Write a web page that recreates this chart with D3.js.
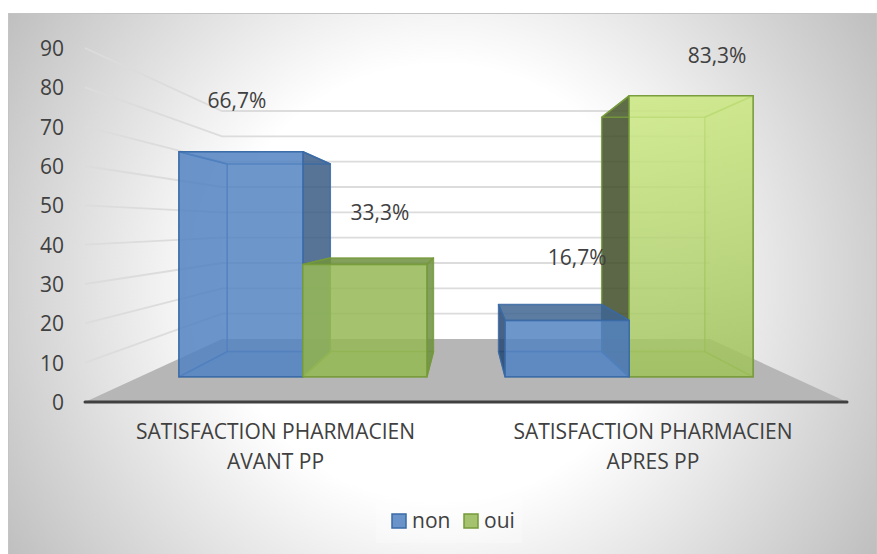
<!DOCTYPE html>
<html>
<head>
<meta charset="utf-8">
<script src="https://cdn.jsdelivr.net/npm/d3@7"></script>
<style>
  html, body { margin: 0; padding: 0; background: #fff; }
  svg { display: block; }
  text { font-family: "Open Sans", sans-serif; fill: #404040; }
</style>
</head>
<body>
<div id="chart"></div>
<script>
const categories = ['SATISFACTION PHARMACIEN|AVANT PP', 'SATISFACTION PHARMACIEN|APRES PP'];
const seriesNames = ['non', 'oui'];
const nonValues = [66.7, 16.7];
const ouiValues = [33.3, 83.3];
const yTicks = [0, 10, 20, 30, 40, 50, 60, 70, 80, 90];
const nonLabels = ['66,7%', '16,7%'];
const ouiLabels = ['33,3%', '83,3%'];

const width = 877;
const height = 554;

const svg = d3.select('#chart').append('svg')
  .attr('width', width)
  .attr('height', height);

const defs = svg.append('defs');
const bg = defs.append('radialGradient').attr('id', 'bg')
  .attr('gradientUnits', 'userSpaceOnUse')
  .attr('cx', 440).attr('cy', 283).attr('r', 520);
bg.append('stop').attr('offset', '0.42').attr('stop-color', '#ffffff');
bg.append('stop').attr('offset', '1').attr('stop-color', '#bdbdbd');

const greenFill = defs.append('linearGradient').attr('id', 'greenFill')
  .attr('gradientUnits', 'userSpaceOnUse')
  .attr('x1', 0).attr('x2', 0).attr('y1', 95).attr('y2', 376);
greenFill.append('stop').attr('offset', '0').attr('stop-color', '#cce983');
greenFill.append('stop').attr('offset', '1').attr('stop-color', '#a0c25d');

svg.append('rect')
  .attr('x', 8.5).attr('y', 13.5)
  .attr('width', 868).attr('height', 541)
  .attr('fill', 'url(#bg)')
  .attr('stroke', '#c4c4c4');

// front and back planes of the 3d box, depth goes 0 (front) to 1 (back)
const yFront = d3.scaleLinear().domain([0, 90]).range([402, 48]);
const yBack = d3.scaleLinear().domain([0, 90]).range([339, 111]);
const xLeft = d3.scaleLinear().domain([0, 1]).range([85, 222]);
const xRight = d3.scaleLinear().domain([0, 1]).range([847, 710]);

function project(u, depth, value) {
  const x = d3.interpolateNumber(xLeft(depth), xRight(depth))(u);
  const y = d3.interpolateNumber(yFront(value), yBack(value))(depth);
  return [x, y];
}

const x0 = d3.scaleBand().domain(categories).range([0, 1]).paddingInner(0.24).paddingOuter(0.12);
const x1 = d3.scaleBand().domain(seriesNames).range([0, x0.bandwidth()]);

const barFront = 0.4;
const barBack = 0.8;

const line = d3.line();
const poly = pts => line(pts) + 'Z';

// floor
svg.append('path')
  .attr('d', poly([project(0, 0, 0), project(1, 0, 0), project(1, 1, 0), project(0, 1, 0)]))
  .attr('fill', '#b6b6b6');

// gridlines: left wall then back wall
const grid = svg.append('g')
  .attr('fill', 'none')
  .attr('stroke', '#dcdcdc')
  .attr('stroke-width', 1.8);
yTicks.filter(d => d > 0).forEach(d => {
  grid.append('path').attr('d', line([project(0, 0, d), project(0, 1, d), project(1, 1, d)]));
});

// y axis labels
svg.append('g').selectAll('text')
  .data(yTicks)
  .join('text')
  .attr('x', 64)
  .attr('y', d => yFront(d) + 8)
  .attr('text-anchor', 'end')
  .attr('font-size', 21)
  .text(d => d);

// bars
const colours = {
  non: { front: '#5484c2', edge: '#3a6aa5', left: '#27466e', right: '#3a5c85', top: '#3f6592', fill: '#5b8cc8' },
  oui: { front: '#95b956', edge: '#769a3a', left: '#3f4c28', right: '#6f9040', top: '#6f9040', fill: '#a3c16a' }
};

function drawBar(g, cat, name, value, frontFill) {
  const c = colours[name];
  const u0 = x0(cat) + x1(name);
  const u1 = u0 + x1.bandwidth();
  const fl = project(u0, barFront, 0), fr = project(u1, barFront, 0);
  const flt = project(u0, barFront, value), frt = project(u1, barFront, value);
  const bl = project(u0, barBack, 0), br = project(u1, barBack, 0);
  const blt = project(u0, barBack, value), brt = project(u1, barBack, value);

  const face = (pts, fill, op) => g.append('path')
    .attr('d', poly(pts))
    .attr('fill', fill)
    .attr('fill-opacity', op)
    .attr('stroke', c.edge)
    .attr('stroke-opacity', 0.85)
    .attr('stroke-width', 1.5)
    .attr('stroke-linejoin', 'round');

  // faces sticking out of the front rectangle are seen from outside, so darker
  const leftOut = blt[0] < flt[0];
  const rightOut = brt[0] > frt[0];
  const topOut = blt[1] < flt[1];

  face([fl, fr, br, bl], c.fill, 0.3);
  face([flt, blt, bl, fl], leftOut ? c.left : c.front, leftOut ? 0.85 : 0.08);
  face([frt, brt, br, fr], rightOut ? c.right : c.front, rightOut ? 0.85 : 0.08);
  face([flt, frt, brt, blt], topOut ? c.top : c.front, topOut ? 0.85 : 0.08);
  face([flt, frt, fr, fl], frontFill, 0.85);
}

const bars = svg.append('g');
// first pair: green sits over the blue side, second pair: blue sits over the green side
drawBar(bars, categories[0], 'non', nonValues[0], colours.non.front);
drawBar(bars, categories[0], 'oui', ouiValues[0], colours.oui.front);
drawBar(bars, categories[1], 'oui', ouiValues[1], 'url(#greenFill)');
drawBar(bars, categories[1], 'non', nonValues[1], colours.non.front);

// axis line
svg.append('path')
  .attr('d', line([project(0, 0, 0), project(1, 0, 0)]))
  .attr('stroke', '#404040')
  .attr('stroke-width', 3)
  .attr('stroke-linecap', 'round');

// data labels, moved by hand in the original so nudged here
const labelNudge = { non: [[-4, -44], [10, -55]], oui: [[15, -44], [26, -33]] };
const labels = svg.append('g').attr('font-size', 21).attr('text-anchor', 'middle');
categories.forEach((cat, i) => {
  seriesNames.forEach(name => {
    const value = (name === 'non' ? nonValues : ouiValues)[i];
    const text = (name === 'non' ? nonLabels : ouiLabels)[i];
    const p = project(x0(cat) + x1(name) + x1.bandwidth() / 2, barFront, value);
    labels.append('text')
      .attr('x', p[0] + labelNudge[name][i][0])
      .attr('y', p[1] + labelNudge[name][i][1])
      .text(text);
  });
});

// category labels
const catLabels = svg.append('g').attr('font-size', 21).attr('text-anchor', 'middle');
categories.forEach(cat => {
  const cx = project(x0(cat) + x0.bandwidth() / 2, 0, 0)[0];
  cat.split('|').forEach((part, j) => {
    catLabels.append('text')
      .attr('x', cx + (cat === categories[0] ? 0 : -3.5))
      .attr('y', 439 + j * 30)
      .text(part);
  });
});

// legend
svg.append('rect')
  .attr('x', 376).attr('y', 498).attr('width', 146).attr('height', 45)
  .attr('fill', '#ffffff').attr('fill-opacity', 0.25);
const legendX = d3.scaleOrdinal().domain(seriesNames).range([392, 464]);
seriesNames.forEach(name => {
  const c = colours[name];
  svg.append('rect')
    .attr('x', legendX(name)).attr('y', 514)
    .attr('width', 14).attr('height', 14)
    .attr('fill', name === 'non' ? '#6a94c9' : '#a5c36f')
    .attr('stroke', c.edge)
    .attr('stroke-width', 1.5);
  svg.append('text')
    .attr('x', legendX(name) + 20).attr('y', 528)
    .attr('font-size', 21)
    .text(name);
});
</script>
</body>
</html>
